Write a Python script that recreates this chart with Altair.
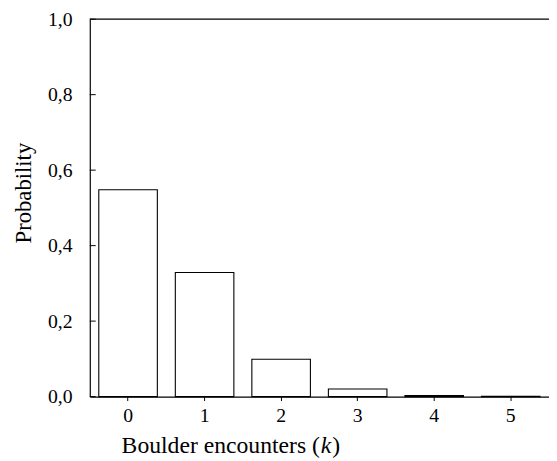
import altair as alt
import pandas as pd

# data
k_values = [0, 1, 2, 3, 4, 5]
probabilities = [0.548, 0.329, 0.099, 0.020, 0.003, 0.0005]
y_ticks = [0.0, 0.2, 0.4, 0.6, 0.8, 1.0]
x_title_parts = ["Boulder encounters (", "k", ")"]
y_title = "Probability"

FONT = "Liberation Serif"
W, H = 466, 383

df = pd.DataFrame({"k": [str(v) for v in k_values], "p": probabilities})
ticks_df = pd.DataFrame({"p": y_ticks})

x_enc = alt.X(
    "k:N",
    sort=[str(v) for v in k_values],
    scale=alt.Scale(paddingInner=0.235, paddingOuter=0.1175),
    axis=alt.Axis(
        title=None,
        labelAngle=0,
        labelFont=FONT,
        labelFontSize=20,
        labelColor="black",
        labelPadding=5,
        tickSize=4,
        tickColor="black",
        domainColor="black",
        domainWidth=1.2,
        grid=False,
    ),
)

y_scale = alt.Scale(domain=[0, 1], nice=False, zero=True)
y_axis = alt.Axis(
    values=y_ticks,
    format=".1f",
    labelExpr="replace(datum.label, '.', ',')",
    labelFont=FONT,
    labelFontSize=20,
    labelColor="black",
    labelPadding=18,
    tickSize=0,
    domainColor="black",
    domainWidth=1.2,
    grid=False,
    title=y_title,
    titleFont=FONT,
    titleFontSize=23,
    titleFontWeight="normal",
    titleColor="black",
    titleAngle=270,
    titleAlign="center",
    titleBaseline="alphabetic",
    titleX=-60.5,
    titleY=176,
)

bars = alt.Chart(df).mark_bar(
    fill="white", stroke="black", strokeWidth=1.1
).encode(
    x=x_enc,
    y=alt.Y("p:Q", scale=y_scale, axis=y_axis),
)

inner_ticks = alt.Chart(ticks_df).mark_rule(color="black", strokeWidth=1).encode(
    y=alt.Y("p:Q", scale=y_scale, axis=y_axis),
    x=alt.value(0),
    x2=alt.value(6),
)

one = pd.DataFrame({"a": [0]})

top_line = alt.Chart(one).mark_rule(
    color="black", strokeWidth=1.2
).encode(x=alt.value(0), x2=alt.value(W), y=alt.value(0))

title_y = 440
t1 = alt.Chart(one).mark_text(
    font=FONT, fontSize=24, color="black", align="right", baseline="alphabetic"
).encode(x=alt.value(233.5), y=alt.value(title_y), text=alt.value(x_title_parts[0]))
t2 = alt.Chart(one).mark_text(
    font=FONT, fontSize=24, fontStyle="italic", color="black", align="left",
    baseline="alphabetic"
).encode(x=alt.value(234.5), y=alt.value(title_y), text=alt.value(x_title_parts[1]))
t3 = alt.Chart(one).mark_text(
    font=FONT, fontSize=24, color="black", align="left", baseline="alphabetic"
).encode(x=alt.value(246), y=alt.value(title_y), text=alt.value(x_title_parts[2]))

chart = alt.layer(bars, inner_ticks, top_line, t1, t2, t3).properties(
    width=W,
    height=H,
    autosize=alt.AutoSizeParams(type="none"),
    padding={"left": 83, "top": 8, "right": 0, "bottom": 62},
).configure_view(stroke="transparent")

chart.save("out.html", embed_options={"renderer": "svg", "actions": False})
